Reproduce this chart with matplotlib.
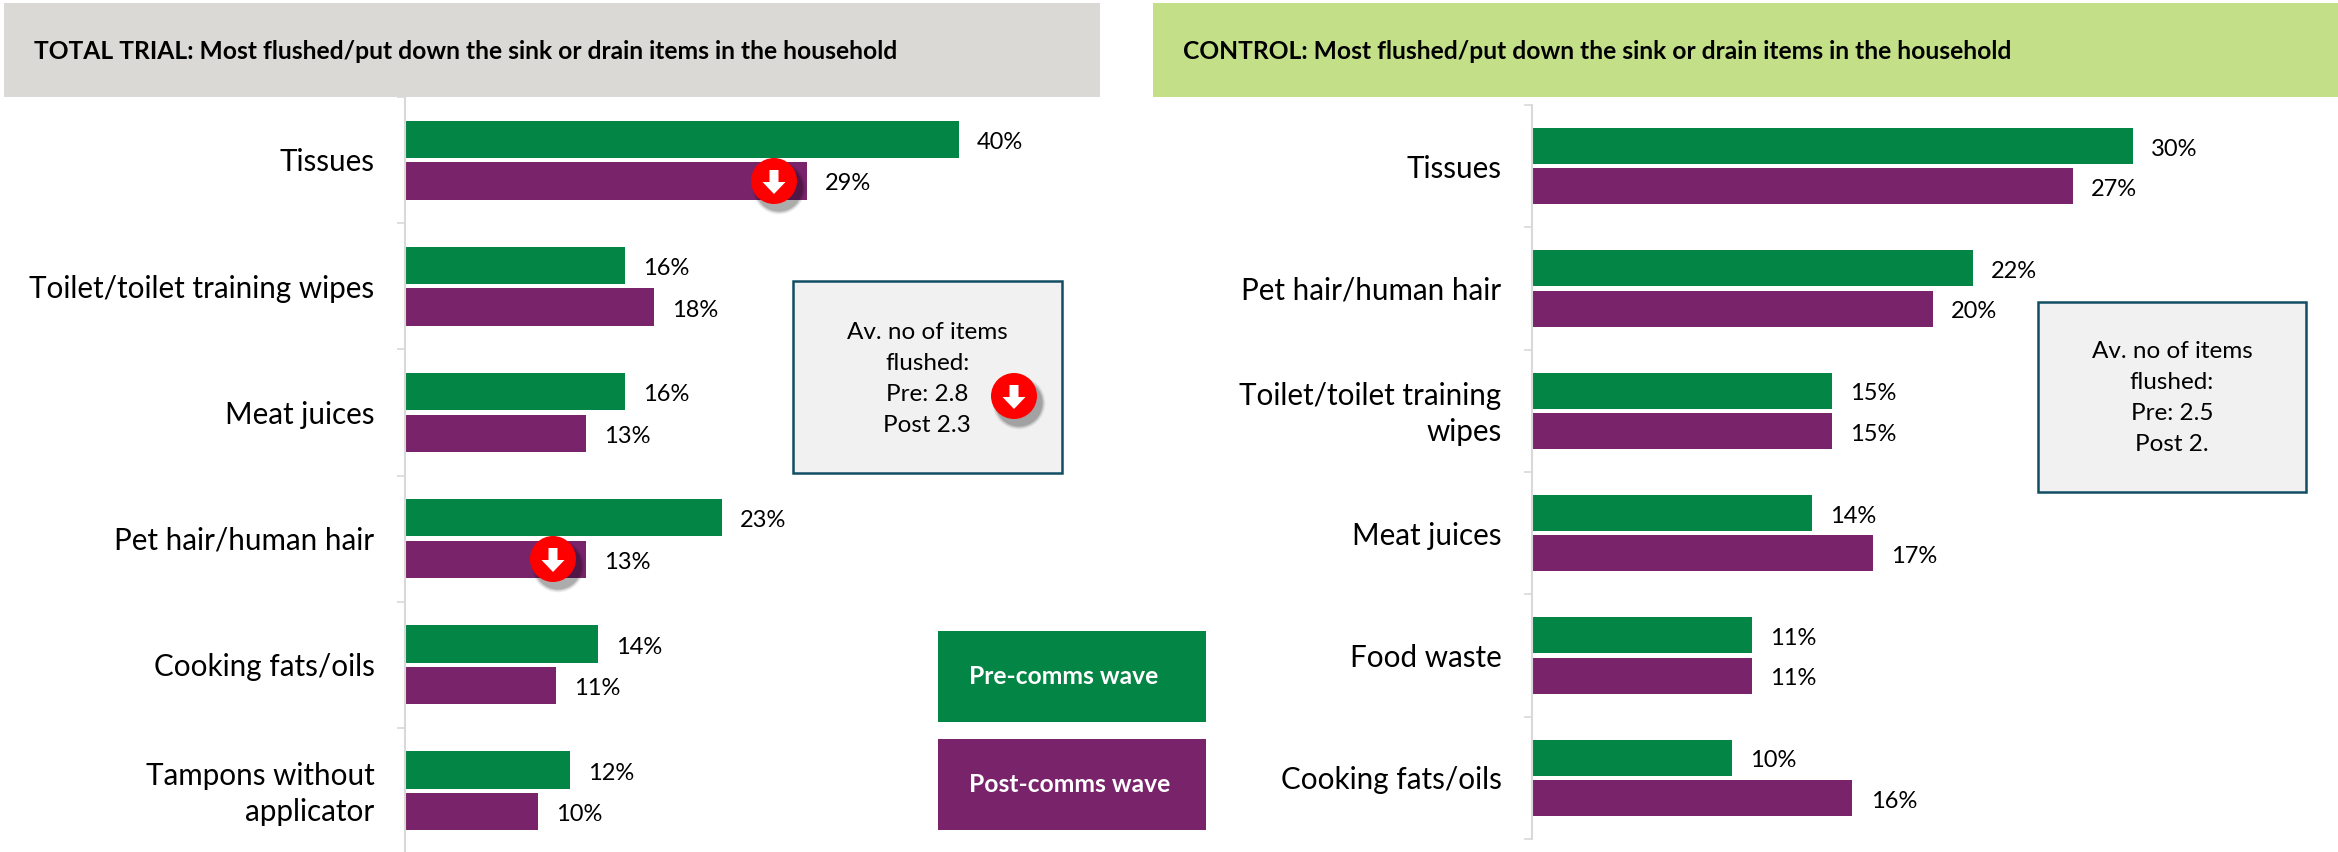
import matplotlib
matplotlib.use("Agg")
import matplotlib.pyplot as plt
from matplotlib.patches import Ellipse, Rectangle, FancyArrow
from matplotlib.transforms import ScaledTranslation

W, H = 2338, 853
GREEN = "#038545"
PURPLE = "#79236B"

plt.rcParams["font.family"] = ["Lato", "DejaVu Sans"]

# data
trial_items = ["Tissues", "Toilet/toilet training wipes", "Meat juices",
               "Pet hair/human hair", "Cooking fats/oils",
               "Tampons without\napplicator"]
trial_pre = [40, 15.9, 15.9, 22.9, 13.9, 11.9]
trial_post = [29, 18, 13.1, 13.1, 10.9, 9.6]

control_items = ["Tissues", "Pet hair/human hair",
                 "Toilet/toilet training\nwipes", "Meat juices",
                 "Food waste", "Cooking fats/oils"]
control_pre = [30, 22, 15, 14, 11, 10]
control_post = [27, 20, 15, 17, 11, 16]

trial_title = "TOTAL TRIAL: Most flushed/put down the sink or drain items in the household"
control_title = "CONTROL: Most flushed/put down the sink or drain items in the household"
trial_box = "Av. no of items\nflushed:\nPre: 2.8\nPost 2.3"
control_box = "Av. no of items\nflushed:\nPre: 2.5\nPost 2."
legend_labels = ["Pre-comms wave", "Post-comms wave"]

fig = plt.figure(figsize=(W / 100, H / 100), dpi=100, facecolor="white")


def px_axes(x0, y0, x1, y1):
    # axes placed by pixel box, y measured from the top of the image
    return fig.add_axes([x0 / W, 1 - y1 / H, (x1 - x0) / W, (y1 - y0) / H])


def bar_panel(box, xmax, items, pre, post, bar_h):
    ax = px_axes(*box)
    for i, (a, b) in enumerate(zip(pre, post)):
        ax.barh(i - 0.165, a, height=bar_h, color=GREEN, edgecolor="none")
        ax.barh(i + 0.165, b, height=bar_h, color=PURPLE, edgecolor="none")
        for val, off in ((a, -0.165), (b, 0.165)):
            ax.annotate(f"{val:.0f}%", (val, i + off), xytext=(13, -1.5),
                        textcoords="offset points", va="center", ha="left",
                        fontsize=17, color="black")
    ax.set_xlim(0, xmax)
    ax.set_ylim(len(items) - 0.5, -0.5)
    ax.set_yticks(range(len(items)))
    ax.set_yticklabels(items, fontsize=21.3, linespacing=1.36)
    ax.set_yticks([i - 0.5 for i in range(len(items) + 1)], minor=True)
    ax.tick_params(axis="y", which="major", length=0, pad=22)
    ax.tick_params(axis="y", which="minor", length=6, width=1.2, color="#D9D9D9")
    # nudge the labels up, the two-line ones a little more
    for lab in ax.get_yticklabels():
        dy = 3.2 if "\n" in lab.get_text() else 0.8
        lab.set_transform(lab.get_transform() + ScaledTranslation(0, dy / 72, fig.dpi_scale_trans))
    ax.xaxis.set_visible(False)
    for s in ("top", "right", "bottom"):
        ax.spines[s].set_visible(False)
    ax.spines["left"].set_color("#D9D9D9")
    ax.spines["left"].set_linewidth(1.5)
    ax.patch.set_alpha(0)
    return ax


bar_panel((405, 98, 1100, 855), 695 / 13.85, trial_items, trial_pre, trial_post, 0.295)
bar_panel((1532, 106, 2338, 840), 806 / 20.03, control_items, control_pre, control_post, 0.295)

# overlay for the headers, boxes, legend and the red markers, in image pixels
ov = fig.add_axes([0, 0, 1, 1], zorder=5)
ov.set_xlim(0, W)
ov.set_ylim(H, 0)
ov.axis("off")
ov.patch.set_alpha(0)

ov.add_patch(Rectangle((4, 4), 1096, 94, fc="#DAD9D5", ec="none"))
ov.add_patch(Rectangle((1153, 4), 1185, 94, fc="#C3DF87", ec="none"))
ov.text(34, 51, trial_title, fontsize=17.75, fontweight="bold", va="center", color="black")
ov.text(1183, 51, control_title, fontsize=17.75, fontweight="bold", va="center", color="black")

for x0, y0, x1, y1 in ((793, 282, 1062, 474), (2038, 303, 2306, 493)):
    ov.add_patch(Rectangle((x0, y0), x1 - x0, y1 - y0, fc="#F1F1F1", ec="#124E63", lw=1.8))
ov.text(927, 379, trial_box, fontsize=17.5, ha="center", va="center", linespacing=1.58)
ov.text(2172, 398, control_box, fontsize=17.5, ha="center", va="center", linespacing=1.58)

ov.add_patch(Rectangle((938, 632), 268, 91, fc=GREEN, ec="none"))
ov.add_patch(Rectangle((938, 740), 268, 91, fc=PURPLE, ec="none"))
ov.text(969, 677, legend_labels[0], fontsize=17.7, fontweight="bold", color="white", va="center")
ov.text(969, 785, legend_labels[1], fontsize=17.7, fontweight="bold", color="white", va="center")


def down_marker(cx, cy):
    for grow, alpha in ((7, 0.05), (5, 0.07), (3, 0.1), (1, 0.14)):
        ov.add_patch(Ellipse((cx + 5, cy + 7), 46 + grow, 46 + grow, fc="black", ec="none", alpha=alpha))
    ov.add_patch(Ellipse((cx, cy), 46, 46, fc="#FF0000", ec="none"))
    ov.add_patch(FancyArrow(cx, cy - 11, 0, 24, width=9, head_width=23, head_length=12,
                            length_includes_head=True, fc="white", ec="none"))


down_marker(774, 182)
down_marker(553, 560)
down_marker(1014, 397)

fig.savefig("out.png", dpi=100)
